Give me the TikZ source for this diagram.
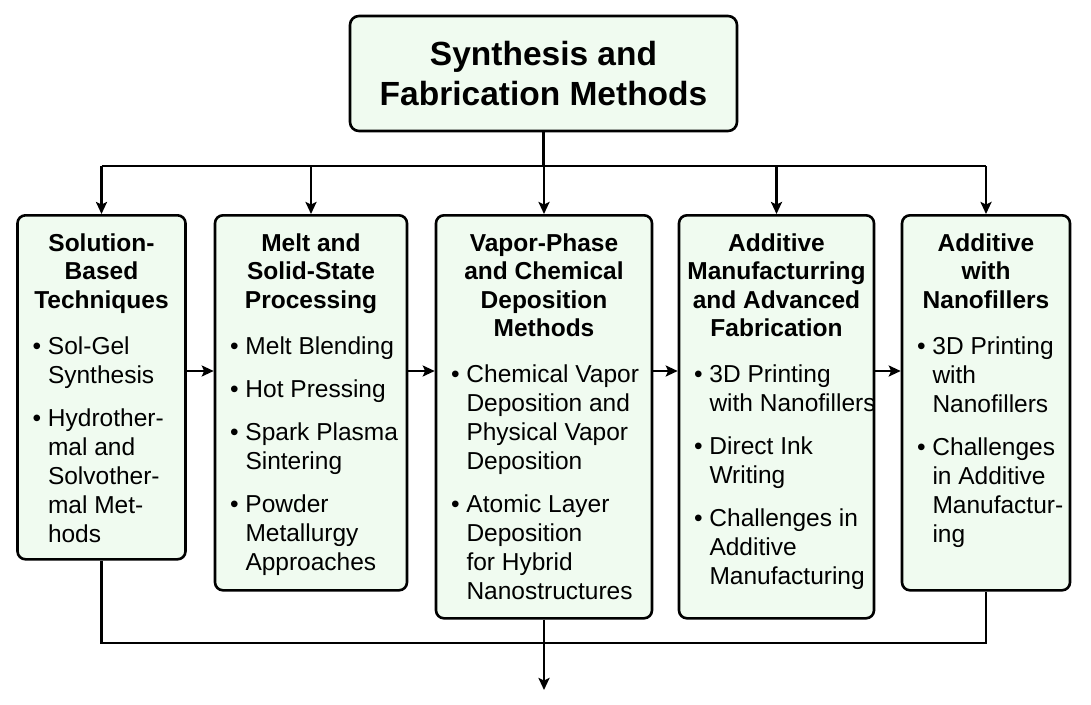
\documentclass[tikz,border=0pt]{standalone}
\usepackage{fontspec}
\setmainfont{Liberation Sans}
\usetikzlibrary{arrows.meta,positioning}
\definecolor{mintfill}{RGB}{240,251,240}
\tikzset{
	titlebox/.style={draw=black, line width=2.6pt, rounded corners=9pt, fill=mintfill, minimum width=387pt, minimum height=115pt, align=center, font=\bfseries\fontsize{33.5}{40}\selectfont},
	methodbox/.style={draw=black, line width=2.6pt, rounded corners=8pt, fill=mintfill, inner xsep=14pt, inner ysep=0pt, anchor=north},
	link/.style={line width=2.4pt},
	arr/.style={link, -{Stealth[length=12pt,width=11pt,inset=2.5pt]}}
}
\newcommand{\methodtext}[4]{\parbox[t][#2][t]{#1}{%
	{\bfseries\fontsize{24.5}{28.5}\selectfont\leftskip=-10pt plus 1fil\rightskip=-10pt plus 1fil\parfillskip=0pt\let\\\par\rule{0pt}{36pt}#3\par}%
	\fontsize{24.5}{29}\selectfont\leftskip=0pt\rightskip=-14pt plus 1fil\hyphenpenalty=10000\exhyphenpenalty=10000\let\\\newline\vspace{3pt}#4}}
\newcommand{\bodyitem}[1]{\vspace{14pt}\hangindent=16.5pt\hangafter=1\noindent\makebox[16.5pt][l]{\hspace{1pt}\textbullet}#1\par}

\begin{document}
\begin{tikzpicture}[x=1pt,y=-1pt]
	%%%%% START %%%%%
	\useasboundingbox (0,0) rectangle (1091,704);
	
	\node[titlebox] (title) at (543.5,73.5) {Synthesis and\\Fabrication Methods};
	
	\node[methodbox] (sol) at (101.5,214) {\methodtext{140pt}{344pt}{Solution-\\Based\\Techniques}{%
		\bodyitem{Sol-Gel\\Synthesis}\bodyitem{Hydrother-\\mal and\\Solvother-\\mal Met-\\hods}}};
	\node[methodbox] (mel) at (311,214) {\methodtext{164pt}{375pt}{Melt and\\Solid-State\\Processing}{%
		\bodyitem{Melt Blending}\bodyitem{Hot Pressing}\bodyitem{Spark Plasma\\Sintering}\bodyitem{Powder\\Metallurgy\\Approaches}}};
	\node[methodbox] (vap) at (544,214) {\methodtext{188pt}{403pt}{Vapor-Phase\\and Chemical\\Deposition\\Methods}{%
		\bodyitem{Chemical Vapor\\Deposition and\\Physical Vapor\\Deposition}\bodyitem{Atomic Layer\\Deposition\\for Hybrid\\Nanostructures}}};
	\node[methodbox] (add) at (776.5,214) {\methodtext{167pt}{403pt}{Additive\\Manufacturring\\and Advanced\\Fabrication}{%
		\bodyitem{3D Printing\\\mbox{with Nanofillers}}\bodyitem{Direct Ink\\Writing}\bodyitem{Challenges in\\Additive\\Manufacturing}}};
	\node[methodbox] (nan) at (986,214) {\methodtext{140pt}{375pt}{Additive\\with\\Nanofillers}{%
		\bodyitem{3D Printing\\with\\Nanofillers}\bodyitem{Challenges\\in Additive\\Manufactur-\\ing}}};
	
	\coordinate (split) at (543.5,166);
	\coordinate (mid) at (0,371);
	\coordinate (join) at (0,643);
	\coordinate (out) at (544,690);
	
	\draw[link] (title.south) -- (split);
	\draw[link] (sol.north |- split) -- (nan.north |- split);
	\draw[arr] (sol.north |- split) -- (sol.north);
	\draw[arr] (mel.north |- split) -- (mel.north);
	\draw[arr] (vap.north |- split) -- (vap.north);
	\draw[arr] (add.north |- split) -- (add.north);
	\draw[arr] (nan.north |- split) -- (nan.north);
	
	\draw[arr] (sol.east |- mid) -- (mel.west |- mid);
	\draw[arr] (mel.east |- mid) -- (vap.west |- mid);
	\draw[arr] (vap.east |- mid) -- (add.west |- mid);
	\draw[arr] (add.east |- mid) -- (nan.west |- mid);
	
	\draw[link] (sol.south) -- (sol.south |- join) -- (nan.south |- join) -- (nan.south);
	\draw[arr] (vap.south) -- (out);
	%%%%% END %%%%%
\end{tikzpicture}
\end{document}
